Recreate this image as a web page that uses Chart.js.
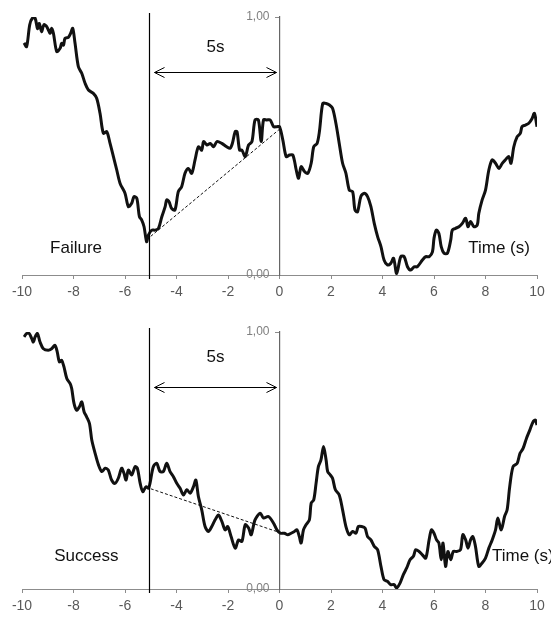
<!DOCTYPE html>
<html>
<head>
<meta charset="utf-8">
<script src="https://cdn.jsdelivr.net/npm/chart.js@4.4.0/dist/chart.umd.min.js"></script>
<style>
  html, body { margin: 0; padding: 0; background: #fff; }
  .panel { position: relative; width: 551px; }
  #top { height: 310px; }
  #bottom { height: 309px; }
</style>
</head>
<body>
<div class="panel" id="top"><canvas id="failureChart"></canvas></div>
<div class="panel" id="bottom"><canvas id="successChart"></canvas></div>
<script>
// time (s) and normalised value
const failureTime = [-9.92, -9.82, -9.70, -9.60, -9.49, -9.40, -9.33, -9.24, -9.15, -9.04, -8.91, -8.85, -8.78, -8.65, -8.52, -8.46, -8.39, -8.33, -8.20, -8.11, -8.03, -7.94, -7.81, -7.68, -7.55, -7.42, -7.23, -7.10, -6.97, -6.84, -6.71, -6.58, -6.45, -6.32, -6.19, -6.00, -5.87, -5.74, -5.65, -5.54, -5.44, -5.35, -5.26, -5.16, -5.09, -4.96, -4.83, -4.70, -4.57, -4.44, -4.38, -4.29, -4.19, -4.06, -3.93, -3.80, -3.67, -3.54, -3.41, -3.28, -3.15, -3.02, -2.95, -2.82, -2.69, -2.56, -2.43, -2.24, -2.05, -1.92, -1.83, -1.72, -1.65, -1.55, -1.46, -1.33, -1.20, -1.07, -0.95, -0.82, -0.71, -0.62, -0.49, -0.36, -0.23, -0.10, 0.00,
  0.13, 0.26, 0.39, 0.52, 0.65, 0.74, 0.84, 0.97, 1.10, 1.23, 1.33, 1.46, 1.55, 1.68, 1.81, 1.94, 2.06, 2.19, 2.32, 2.45, 2.58, 2.71, 2.84, 2.93, 3.03, 3.16, 3.29, 3.42, 3.55, 3.68, 3.81, 3.94, 4.06, 4.19, 4.32, 4.43, 4.55, 4.71, 4.84, 4.97, 5.10, 5.23, 5.35, 5.55, 5.68, 5.81, 5.94, 6.00, 6.09, 6.19, 6.28, 6.39, 6.52, 6.65, 6.71, 6.84, 6.97, 7.10, 7.23, 7.32, 7.42, 7.55, 7.68, 7.74, 7.87, 8.00, 8.13, 8.26, 8.39, 8.52, 8.65, 8.77, 8.90, 8.99, 9.10, 9.23, 9.35, 9.42, 9.55, 9.68, 9.81, 9.90, 10.0];
const failureValue = [0.900, 0.885, 0.970, 0.995, 0.995, 0.955, 0.975, 0.943, 0.970, 0.963, 0.937, 0.956, 0.937, 0.866, 0.879, 0.898, 0.891, 0.917, 0.921, 0.937, 0.956, 0.898, 0.807, 0.782, 0.743, 0.717, 0.704, 0.685, 0.627, 0.549, 0.556, 0.510, 0.459, 0.407, 0.355, 0.317, 0.265, 0.278, 0.304, 0.297, 0.226, 0.213, 0.187, 0.129, 0.155, 0.174, 0.174, 0.181, 0.226, 0.265, 0.291, 0.284, 0.258, 0.252, 0.323, 0.342, 0.394, 0.413, 0.394, 0.446, 0.497, 0.484, 0.517, 0.504, 0.510, 0.497, 0.517, 0.510, 0.497, 0.491, 0.510, 0.556, 0.556, 0.484, 0.484, 0.459, 0.504, 0.517, 0.601, 0.601, 0.517, 0.601, 0.601, 0.601, 0.575, 0.575, 0.575,
  0.523, 0.459, 0.465, 0.465, 0.407, 0.375, 0.420, 0.401, 0.394, 0.433, 0.497, 0.510, 0.556, 0.665, 0.665, 0.659, 0.646, 0.588, 0.510, 0.433, 0.394, 0.329, 0.323, 0.252, 0.245, 0.304, 0.317, 0.304, 0.265, 0.200, 0.149, 0.110, 0.058, 0.039, 0.045, 0.065, 0.006, 0.071, 0.071, 0.032, 0.019, 0.032, 0.032, 0.058, 0.071, 0.071, 0.090, 0.142, 0.174, 0.161, 0.110, 0.084, 0.084, 0.136, 0.174, 0.181, 0.187, 0.200, 0.220, 0.187, 0.207, 0.187, 0.194, 0.239, 0.291, 0.329, 0.407, 0.446, 0.433, 0.413, 0.433, 0.446, 0.459, 0.433, 0.497, 0.536, 0.549, 0.575, 0.581, 0.588, 0.607, 0.627, 0.575];

const successTime = [-9.92, -9.82, -9.72, -9.62, -9.56, -9.49, -9.40, -9.30, -9.17, -8.98, -8.85, -8.72, -8.63, -8.55, -8.46, -8.37, -8.26, -8.13, -8.07, -7.98, -7.88, -7.77, -7.68, -7.59, -7.49, -7.38, -7.29, -7.16, -7.03, -6.90, -6.77, -6.65, -6.52, -6.39, -6.26, -6.13, -6.04, -5.96, -5.87, -5.74, -5.61, -5.52, -5.41, -5.31, -5.18, -5.09, -5.03, -4.90, -4.77, -4.64, -4.51, -4.38, -4.25, -4.12, -3.99, -3.86, -3.73, -3.60, -3.47, -3.34, -3.25, -3.15, -3.02, -2.89, -2.76, -2.63, -2.50, -2.37, -2.24, -2.11, -2.01, -1.88, -1.72, -1.59, -1.46, -1.33, -1.20, -1.10, -0.95, -0.75, -0.62, -0.43, -0.23, -0.10, 0.03,
  0.19, 0.32, 0.45, 0.58, 0.68, 0.77, 0.84, 0.93, 1.03, 1.16, 1.23, 1.33, 1.42, 1.51, 1.61, 1.71, 1.81, 1.87, 1.97, 2.06, 2.17, 2.32, 2.45, 2.58, 2.71, 2.84, 2.97, 3.06, 3.19, 3.32, 3.42, 3.55, 3.68, 3.81, 3.94, 4.06, 4.19, 4.32, 4.45, 4.55, 4.68, 4.81, 4.94, 5.07, 5.20, 5.29, 5.42, 5.55, 5.68, 5.81, 5.90, 6.00, 6.10, 6.19, 6.28, 6.35, 6.45, 6.54, 6.65, 6.75, 6.88, 7.03, 7.12, 7.23, 7.32, 7.42, 7.51, 7.61, 7.74, 7.87, 8.00, 8.13, 8.26, 8.39, 8.48, 8.61, 8.74, 8.84, 8.94, 9.07, 9.23, 9.34, 9.46, 9.59, 9.72, 9.85, 9.94, 10.0];
const successValue = [0.981, 0.994, 0.994, 0.974, 0.961, 0.981, 0.994, 0.961, 0.935, 0.929, 0.935, 0.948, 0.922, 0.884, 0.890, 0.864, 0.819, 0.799, 0.780, 0.722, 0.696, 0.709, 0.728, 0.690, 0.670, 0.644, 0.580, 0.528, 0.483, 0.457, 0.470, 0.463, 0.424, 0.411, 0.431, 0.470, 0.450, 0.424, 0.463, 0.444, 0.476, 0.470, 0.411, 0.379, 0.398, 0.392, 0.411, 0.476, 0.489, 0.457, 0.457, 0.489, 0.457, 0.437, 0.411, 0.392, 0.366, 0.386, 0.373, 0.398, 0.424, 0.360, 0.308, 0.243, 0.224, 0.243, 0.269, 0.288, 0.263, 0.230, 0.243, 0.204, 0.159, 0.191, 0.185, 0.250, 0.237, 0.211, 0.269, 0.295, 0.276, 0.282, 0.256, 0.230, 0.217,
  0.217, 0.211, 0.217, 0.224, 0.230, 0.204, 0.179, 0.230, 0.250, 0.269, 0.334, 0.347, 0.411, 0.476, 0.502, 0.554, 0.502, 0.457, 0.444, 0.431, 0.386, 0.366, 0.308, 0.243, 0.211, 0.224, 0.217, 0.243, 0.243, 0.237, 0.204, 0.191, 0.166, 0.153, 0.088, 0.036, 0.030, 0.017, 0.017, 0.004, 0.023, 0.056, 0.082, 0.114, 0.127, 0.153, 0.146, 0.133, 0.120, 0.191, 0.230, 0.217, 0.191, 0.179, 0.114, 0.179, 0.088, 0.146, 0.114, 0.146, 0.146, 0.153, 0.211, 0.191, 0.159, 0.191, 0.204, 0.166, 0.088, 0.101, 0.120, 0.159, 0.191, 0.230, 0.276, 0.230, 0.282, 0.308, 0.398, 0.476, 0.489, 0.528, 0.547, 0.586, 0.618, 0.651, 0.657, 0.638];

// dashed trend between t = -5 and t = 0
const trendTime = [-5, 0];
const failureTrend = [0.15, 0.565];
const successTrend = [0.39, 0.22];

const xTicks = { min: -10, max: 10, step: 2 };
const yTicks = { min: 0, max: 1, step: 1 };

function toPoints(xs, ys) {
  return xs.map((x, i) => ({ x: x, y: ys[i] }));
}

const grey = '#8c8c8c';

// vertical marker, double arrow and the text labels
const marksPlugin = {
  id: 'marks',
  afterDatasetsDraw(chart, args, opts) {
    const { ctx, chartArea } = chart;
    const xs = chart.scales.x;
    const ys = chart.scales.y;
    ctx.save();

    const xm = Math.round(xs.getPixelForValue(opts.markAt)) + 0.5;
    ctx.strokeStyle = '#000';
    ctx.lineWidth = 1.2;
    ctx.beginPath();
    ctx.moveTo(xm, chartArea.top - 4);
    ctx.lineTo(xm, chartArea.bottom + 4);
    ctx.stroke();

    const ay = Math.round(ys.getPixelForValue(opts.arrowY)) + 0.5;
    const a1 = xm + 5;
    const a2 = xs.getPixelForValue(0) - 3;
    ctx.lineWidth = 1;
    ctx.beginPath();
    ctx.moveTo(a1, ay);
    ctx.lineTo(a2, ay);
    ctx.moveTo(a1 + 10, ay - 5);
    ctx.lineTo(a1, ay);
    ctx.lineTo(a1 + 10, ay + 5);
    ctx.moveTo(a2 - 10, ay - 5);
    ctx.lineTo(a2, ay);
    ctx.lineTo(a2 - 10, ay + 5);
    ctx.stroke();

    ctx.fillStyle = '#111';
    ctx.font = '17px "Liberation Sans", Arial, sans-serif';
    ctx.textBaseline = 'middle';
    ctx.textAlign = 'center';
    ctx.fillText('5s', (a1 + a2) / 2, ys.getPixelForValue(opts.spanY));
    ctx.fillText(opts.name, xs.getPixelForValue(opts.nameAt[0]), ys.getPixelForValue(opts.nameAt[1]));
    ctx.textAlign = 'left';
    ctx.fillText('Time (s)', xs.getPixelForValue(opts.timeAt[0]), ys.getPixelForValue(opts.timeAt[1]));
    ctx.restore();
  }
};

function makeChart(id, times, values, trend, marks, padTop, axisHeight) {
  const ctx = document.getElementById(id).getContext('2d');
  return new Chart(ctx, {
    type: 'line',
    data: {
      datasets: [
        {
          data: toPoints(times, values),
          borderColor: '#111',
          borderWidth: 3,
          pointRadius: 0,
          tension: 0.3,
          fill: false,
        },
        {
          data: toPoints(trendTime, trend),
          borderColor: '#111',
          borderWidth: 1,
          borderDash: [3, 2],
          pointRadius: 0,
          fill: false,
        }
      ]
    },
    options: {
      responsive: true,
      maintainAspectRatio: false,
      animation: false,
      layout: { padding: { left: 22, right: 14, top: padTop, bottom: 0 } },
      scales: {
        x: {
          type: 'linear',
          min: xTicks.min,
          max: xTicks.max,
          afterFit: (scale) => { scale.height = axisHeight; },
          ticks: {
            stepSize: xTicks.step,
            color: '#595959',
            padding: 5,
            maxRotation: 0,
            font: { family: '"Liberation Sans", Arial, sans-serif', size: 14 }
          },
          grid: { drawOnChartArea: false, tickLength: 4, color: grey },
          border: { color: grey, width: 1 }
        },
        y: {
          position: { x: 0 },
          min: yTicks.min,
          max: yTicks.max,
          ticks: {
            stepSize: yTicks.step,
            color: '#7f7f7f',
            padding: 6,
            font: { family: '"Liberation Sans", Arial, sans-serif', size: 12 },
            // trailing spaces keep the label clear of the axis line
            callback: (v) => v.toFixed(2).replace('.', ',') + '   '
          },
          grid: { drawOnChartArea: false, tickLength: 4, color: grey },
          border: { color: '#666', width: 1.2 }
        }
      },
      plugins: {
        legend: { display: false },
        tooltip: { enabled: false },
        marks: marks
      }
    },
    plugins: [marksPlugin]
  });
}

makeChart('failureChart', failureTime, failureValue, failureTrend,
  { name: 'Failure', markAt: -5.08, nameAt: [-7.9, 0.105], timeAt: [7.33, 0.105], arrowY: 0.787, spanY: 0.884 }, 17, 35);
makeChart('successChart', successTime, successValue, successTrend,
  { name: 'Success', markAt: -5.08, nameAt: [-7.5, 0.128], timeAt: [8.25, 0.128], arrowY: 0.786, spanY: 0.903 }, 22, 30);
</script>
</body>
</html>
